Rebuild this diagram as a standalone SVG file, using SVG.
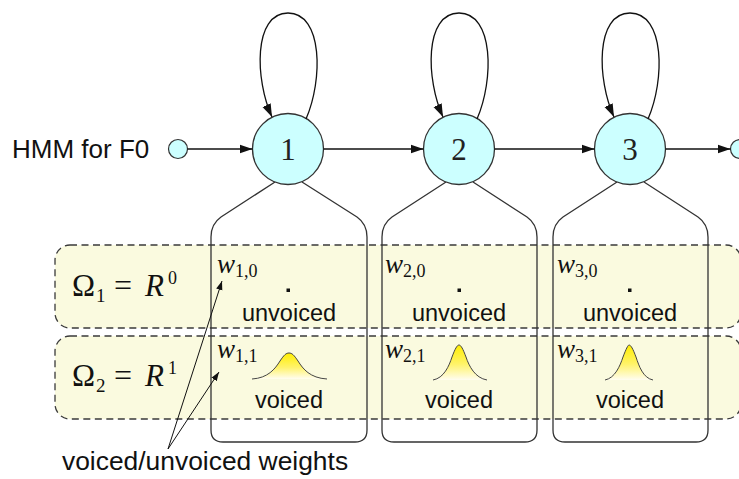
<svg xmlns="http://www.w3.org/2000/svg" width="739" height="479" viewBox="0 0 739 479">
  <defs>
    <marker id="arrow" markerUnits="userSpaceOnUse" markerWidth="14" markerHeight="10" refX="13" refY="5" orient="auto">
      <path d="M0,0.5 L13,5 L0,9.5 Z" fill="#111"/>
    </marker>
    <marker id="arrowSmall" markerUnits="userSpaceOnUse" markerWidth="10" markerHeight="8" refX="9" refY="4" orient="auto">
      <path d="M0,0.8 L9,4 L0,7.2 Z" fill="#111"/>
    </marker>
    <linearGradient id="bump" x1="0" y1="0" x2="0" y2="1">
      <stop offset="0" stop-color="#ffee00"/>
      <stop offset="0.55" stop-color="#fff36a"/>
      <stop offset="1" stop-color="#fffdf0"/>
    </linearGradient>
  </defs>
  <style>
    .band { fill: #fafadf; stroke: #3a3a3a; stroke-width: 1.3; stroke-dasharray: 7 4.5; }
    .state { fill: #ccffff; stroke: #333; stroke-width: 1.3; }
    .term { fill: #ccffff; stroke: #333; stroke-width: 1.2; }
    .outline { fill: none; stroke: #333; stroke-width: 1.3; }
    .edge { fill: none; stroke: #111; stroke-width: 1.3; marker-end: url(#arrow); }
    .pointer { fill: none; stroke: #111; stroke-width: 1; marker-end: url(#arrowSmall); }
    .bump { fill: url(#bump); stroke: #444; stroke-width: 1; }
    .sans { font-family: "Liberation Sans", Arial, sans-serif; fill: #111; }
    .serif { font-family: "Liberation Serif", "Times New Roman", serif; fill: #111; }
    .num { font-family: "Liberation Serif", "Times New Roman", serif; font-size: 31px; fill: #222; text-anchor: middle; }
    .lbl { font-size: 23.5px; text-anchor: middle; }
    .w { font-family: "Liberation Serif", "Times New Roman", serif; font-size: 27px; font-style: italic; fill: #111; }
    .sub { font-family: "Liberation Serif", "Times New Roman", serif; font-size: 18px; font-style: normal; }
  </style>

  <!-- Output-space bands -->
  <g id="band-r0">
    <rect class="band" x="55" y="245" width="686" height="83" rx="15"/>
    <text class="serif" font-size="31" x="72" y="296">Ω</text>
    <text class="serif" font-size="19" x="96" y="302">1</text>
    <text class="serif" font-size="32" x="114" y="296">=</text>
    <text class="serif" font-size="31" font-style="italic" x="145" y="296">R</text>
    <text class="serif" font-size="18" x="168" y="284">0</text>
  </g>
  <g id="band-r1">
    <rect class="band" x="55" y="336" width="686" height="83" rx="15"/>
    <text class="serif" font-size="31" x="72" y="386">Ω</text>
    <text class="serif" font-size="19" x="96" y="392">2</text>
    <text class="serif" font-size="32" x="114" y="386">=</text>
    <text class="serif" font-size="31" font-style="italic" x="145" y="386">R</text>
    <text class="serif" font-size="18" x="168" y="374">1</text>
  </g>

  <!-- Start and end terminals -->
  <g id="start">
    <circle class="term" cx="178" cy="149" r="9.5"/>
    <text class="sans" font-size="26" x="12" y="158">HMM for F0</text>
  </g>
  <g id="end">
    <circle class="term" cx="740" cy="149" r="9.5"/>
  </g>

  <!-- State 1 -->
  <g id="state-1">
    <path class="outline" d="M275,182 L221,217 Q211,224 211,237 L211,430 Q211,442 223,442 L355,442 Q367,442 367,430 L367,237 Q367,224 357,217 L302,182"/>
    <circle class="state" cx="288" cy="149" r="35.5"/>
    <text class="num" x="288" y="160">1</text>
    <text class="w" x="217" y="273">w<tspan class="sub" dy="4">1,0</tspan></text>
    <rect x="286.5" y="288.5" width="3.5" height="3.5" fill="#111"/>
    <text class="sans lbl" x="289" y="321">unvoiced</text>
    <text class="w" x="217" y="358">w<tspan class="sub" dy="4">1,1</tspan></text>
    <path class="bump" d="M252,379 C268,378 275,369 280,361 C284,355 286,353 289,353 C292,353 294,355 298,361 C303,369 310,378 327,379"/>
    <text class="sans lbl" x="289" y="408">voiced</text>
  </g>

  <!-- State 2 -->
  <g id="state-2">
    <path class="outline" d="M446,182 L392,217 Q382,224 382,237 L382,430 Q382,442 394,442 L525,442 Q537,442 537,430 L537,237 Q537,224 527,217 L473,182"/>
    <circle class="state" cx="459" cy="149" r="35.5"/>
    <text class="num" x="459" y="160">2</text>
    <text class="w" x="385" y="273">w<tspan class="sub" dy="4">2,0</tspan></text>
    <rect x="457.5" y="288.5" width="3.5" height="3.5" fill="#111"/>
    <text class="sans lbl" x="459" y="321">unvoiced</text>
    <text class="w" x="385" y="358">w<tspan class="sub" dy="4">2,1</tspan></text>
    <path class="bump" d="M433,380 C444,378 449,366 452,357 C455,349 457,345 459,345 C461,345 463,349 466,357 C469,366 475,378 487,380"/>
    <text class="sans lbl" x="459" y="408">voiced</text>
  </g>

  <!-- State 3 -->
  <g id="state-3">
    <path class="outline" d="M617,182 L563,217 Q553,224 553,237 L553,430 Q553,442 565,442 L696,442 Q708,442 708,430 L708,237 Q708,224 698,217 L644,182"/>
    <circle class="state" cx="630" cy="149" r="35.5"/>
    <text class="num" x="630" y="160">3</text>
    <text class="w" x="557" y="273">w<tspan class="sub" dy="4">3,0</tspan></text>
    <rect x="628" y="288.5" width="3.5" height="3.5" fill="#111"/>
    <text class="sans lbl" x="630" y="321">unvoiced</text>
    <text class="w" x="557" y="358">w<tspan class="sub" dy="4">3,1</tspan></text>
    <path class="bump" d="M605,380 C615,378 620,366 623,357 C626,349 628,345 629,345 C631,345 633,349 636,357 C639,366 643,378 653,380"/>
    <text class="sans lbl" x="630" y="408">voiced</text>
  </g>

  <!-- Weight annotation -->
  <g id="weights-label">
    <text class="sans" font-size="26.4" x="62" y="470">voiced/unvoiced weights</text>
  </g>

  <!-- Transitions and pointers -->
  <g id="connectors">
    <line class="edge" x1="187.5" y1="149" x2="252.5" y2="149"/>
    <line class="edge" x1="323.5" y1="149" x2="423.5" y2="149"/>
    <line class="edge" x1="494.5" y1="149" x2="594.5" y2="149"/>
    <line class="edge" x1="665.5" y1="149" x2="730.5" y2="149"/>
    <path class="edge" d="M306,119 C323,80 323,13 288,13 C253,13 255,80 272,117"/>
    <path class="edge" d="M477,119 C494,80 494,13 459,13 C424,13 426,80 443,117"/>
    <path class="edge" d="M648,119 C665,80 665,13 630,13 C595,13 597,80 614,117"/>
    <line class="pointer" x1="168" y1="449" x2="222" y2="281"/>
    <line class="pointer" x1="168" y1="449" x2="219" y2="372"/>
  </g>
</svg>
